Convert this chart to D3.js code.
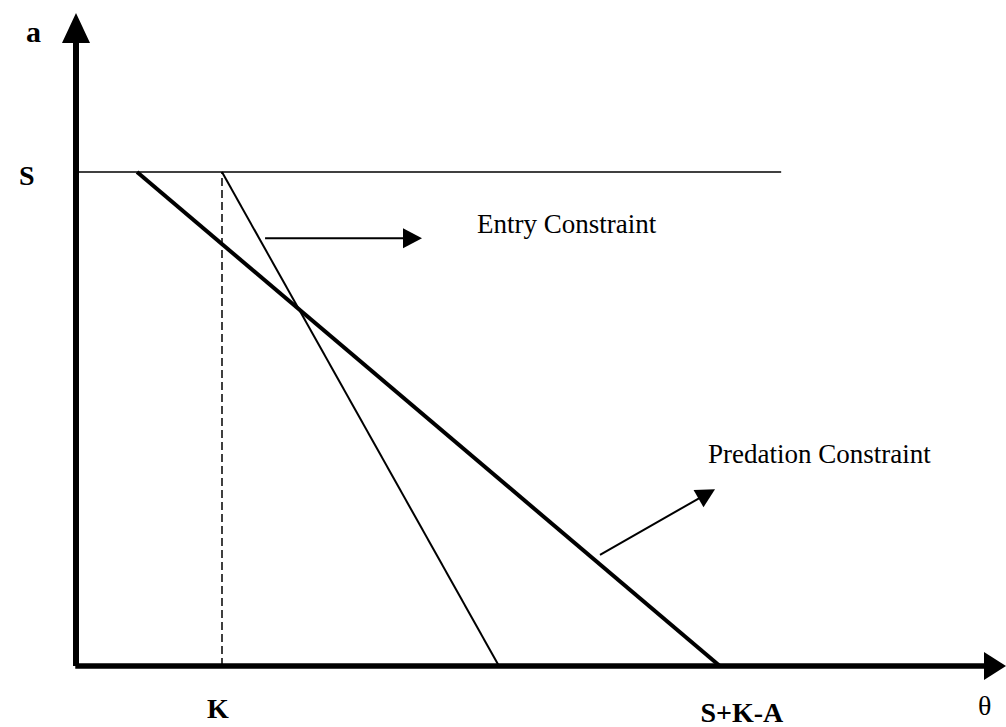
<!DOCTYPE html>
<html>
<head>
<meta charset="utf-8">
<script src="https://cdn.jsdelivr.net/npm/d3@7"></script>
<style>
  html, body { margin: 0; padding: 0; background: #fff; }
  svg { display: block; }
  text { font-family: "Liberation Serif", "Times New Roman", serif; fill: #000; }
</style>
</head>
<body>
<svg id="chart" width="1006" height="727"></svg>
<script>
// theta measured in units of K, a measured in units of S
const thetaMax = 6.37;
const aMax = 1.322;

const sLevel = 1;
const kValue = 1;
const sLineEnd = 4.83;

// constraint lines (theta, a)
const predationLine = [[0.418, 1], [4.41, 0]];
const entryLine = [[1, 1], [2.897, 0]];

// annotation arrows
const entryArrow = [[1.295, 0.866], [2.37, 0.866]];
const predationArrow = [[3.589, 0.225], [4.377, 0.358]];

const curveLabels = [
  { text: "Entry Constraint", theta: 2.747, a: 0.877 },
  { text: "Predation Constraint", theta: 4.329, a: 0.41 }
];

const xTickLabels = [
  { text: "K", theta: kValue, dx: -4 },
  { text: "S+K-A", theta: 4.41, dx: 22 }
];

const svg = d3.select('#chart');

const x = d3.scaleLinear().domain([0, thetaMax]).range([76, 1006]);
const y = d3.scaleLinear().domain([0, aMax]).range([666, 13]);

const line = d3.line().x(d => x(d[0])).y(d => y(d[1]));

// triangle head at the end of a segment
function arrowHead(p0, p1, len, half) {
  const x0 = x(p0[0]), y0 = y(p0[1]), x1 = x(p1[0]), y1 = y(p1[1]);
  const dist = Math.hypot(x1 - x0, y1 - y0);
  const ux = (x1 - x0) / dist, uy = (y1 - y0) / dist;
  const bx = x1 - ux * len, by = y1 - uy * len;
  return `M${x1},${y1}L${bx - uy * half},${by + ux * half}L${bx + uy * half},${by - ux * half}Z`;
}

// S level
svg.append('path')
  .attr('d', line([[0, sLevel], [sLineEnd, sLevel]]))
  .attr('stroke', '#000').attr('stroke-width', 1.6).attr('fill', 'none');

// K dashed
svg.append('path')
  .attr('d', line([[kValue, 0], [kValue, sLevel]]))
  .attr('stroke', '#000').attr('stroke-width', 1.5)
  .attr('stroke-dasharray', '8,4').attr('fill', 'none');

// entry constraint
svg.append('path')
  .attr('d', line(entryLine))
  .attr('stroke', '#000').attr('stroke-width', 2).attr('fill', 'none');

// predation constraint
svg.append('path')
  .attr('d', line(predationLine))
  .attr('stroke', '#000').attr('stroke-width', 4).attr('fill', 'none');

// annotation arrows
[entryArrow, predationArrow].forEach(function(arr) {
  const lenHead = 19;
  const p0 = arr[0], p1 = arr[1];
  const dist = Math.hypot(x(p1[0]) - x(p0[0]), y(p1[1]) - y(p0[1]));
  const t = (dist - lenHead + 2) / dist;
  const mid = [p0[0] + (p1[0] - p0[0]) * t, p0[1] + (p1[1] - p0[1]) * t];
  svg.append('path')
    .attr('d', line([p0, mid]))
    .attr('stroke', '#000').attr('stroke-width', 2).attr('fill', 'none');
  svg.append('path')
    .attr('d', arrowHead(p0, p1, lenHead, 10))
    .attr('fill', '#000');
});

// axes
svg.append('path')
  .attr('d', line([[0, 0], [0, 1.28]]))
  .attr('stroke', '#000').attr('stroke-width', 6).attr('fill', 'none');
svg.append('path')
  .attr('d', arrowHead([0, 0], [0, aMax], 30, 14))
  .attr('fill', '#000');

svg.append('path')
  .attr('d', line([[-0.005, 0], [6.25, 0]]))
  .attr('stroke', '#000').attr('stroke-width', 5.5).attr('fill', 'none');
svg.append('path')
  .attr('d', arrowHead([0, 0], [thetaMax, 0], 22, 14))
  .attr('fill', '#000');

// curve labels
svg.selectAll('.curve-label')
  .data(curveLabels)
  .enter().append('text')
  .attr('class', 'curve-label')
  .attr('x', d => x(d.theta))
  .attr('y', d => y(d.a))
  .attr('font-size', 27)
  .text(d => d.text);

// tick labels
svg.selectAll('.tick-label')
  .data(xTickLabels)
  .enter().append('text')
  .attr('class', 'tick-label')
  .attr('x', d => x(d.theta) + d.dx)
  .attr('y', d => d.text === 'K' ? 718 : 722)
  .attr('text-anchor', 'middle')
  .attr('font-size', 28)
  .attr('font-weight', 'bold')
  .text(d => d.text);

svg.append('text')
  .attr('x', 19).attr('y', y(sLevel) + 13)
  .attr('font-size', 28).attr('font-weight', 'bold')
  .text('S');

svg.append('text')
  .attr('x', 26).attr('y', 42)
  .attr('font-size', 30).attr('font-weight', 'bold')
  .text('a');

svg.append('text')
  .attr('x', 978).attr('y', 715)
  .attr('font-size', 28)
  .text('θ');
</script>
</body>
</html>
